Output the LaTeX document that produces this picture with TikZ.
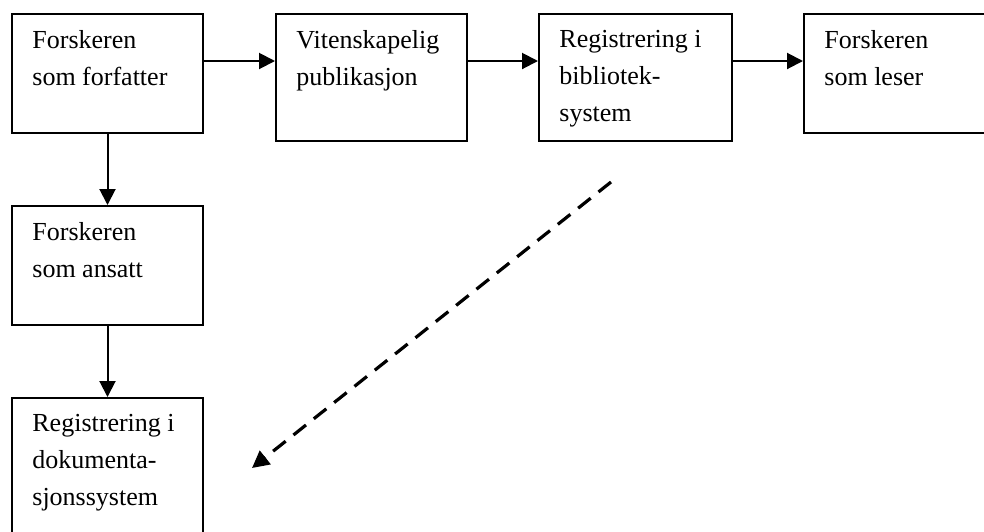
\documentclass[tikz,border=0pt]{standalone}
\usepackage{fontspec}
\setmainfont{Liberation Serif}
\usetikzlibrary{positioning}
\usetikzlibrary{calc}
\usetikzlibrary{arrows.meta}

\begin{document}
\begin{tikzpicture}
    [%%%%%%%%%%%%%%%%%%%%%%%%%%%%%%
        x=0.5pt, y=-0.5pt,
        box/.style={rectangle,draw=black,line width=1pt,minimum width=95.5pt,minimum height=59.5pt,anchor=north west,inner sep=0pt},
        tallbox/.style={box,minimum height=63.5pt},
        txt/.style={anchor=north west,inner sep=0pt,align=left,font=\fontsize{13}{18.5}\selectfont},
        arr/.style={-{Triangle[length=8pt,width=8pt]},line width=1pt},
        dasharr/.style={-{Triangle[length=8.5pt,width=8.5pt]},line width=1.6pt,dash pattern=on 8pt off 5pt}
    ]%%%%%%%%%%%%%%%%%%%%%%%%%%%%%%
\useasboundingbox (0,0) rectangle (984,531);

\node[box] (forfatter) at (11,13) {};
\node[tallbox] (publikasjon) at (275,13) {};
\node[tallbox,minimum width=96.5pt] (bibliotek) at (538,13) {};
\node[box] (leser) at (803,13) {};
\node[box] (ansatt) at (11,205) {};
\node[box,minimum height=75pt] (dokumentasjon) at (11,397) {};

\node[txt] (forfatter-txt) at ($(forfatter.north west)+(21,17)$) {Forskeren\\som forfatter};
\node[txt] (publikasjon-txt) at ($(publikasjon.north west)+(21,17)$) {Vitenskapelig\\publikasjon};
\node[txt] (bibliotek-txt) at ($(bibliotek.north west)+(21,17)$) {Registrering i\\bibliotek-\\system};
\node[txt] (leser-txt) at ($(leser.north west)+(21,17)$) {Forskeren\\som leser};
\node[txt] (ansatt-txt) at ($(ansatt.north west)+(21,17)$) {Forskeren\\som ansatt};
\node[txt] (dokumentasjon-txt) at ($(dokumentasjon.north west)+(21,17)$) {Registrering i\\dokumenta-\\sjonssystem};

\draw[arr] ($(forfatter.north east)+(0,48)$) -- ($(publikasjon.north west)+(0,48)$);
\draw[arr] ($(publikasjon.north east)+(0,48)$) -- ($(bibliotek.north west)+(0,48)$);
\draw[arr] ($(bibliotek.north east)+(0,48)$) -- ($(leser.north west)+(0,48)$);
\draw[arr] (forfatter) -- (ansatt);
\draw[arr] (ansatt) -- (dokumentasjon);

\coordinate (fra) at (611,182);
\coordinate (til) at (252,468);
\draw[dasharr] (fra) -- (til);

\end{tikzpicture}
\end{document}
